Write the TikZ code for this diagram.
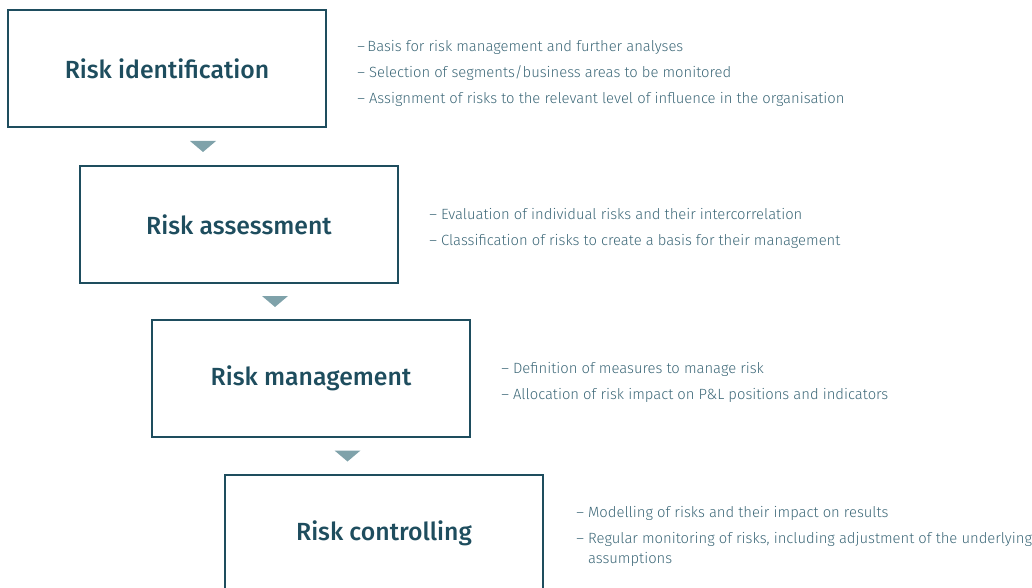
\documentclass[tikz,border=0pt]{standalone}
\usepackage{fontspec}
\setmainfont{Fira Sans}[UprightFont={* Light}, BoldFont={* Medium}]
\usetikzlibrary{positioning}
\definecolor{boxcol}{HTML}{1E4D5E}
\definecolor{notecol}{HTML}{3D6878}
\definecolor{tricol}{HTML}{7FA2AA}

\begin{document}
\begin{tikzpicture}[x=0.75pt,y=-0.75pt,
    stage/.style={draw=boxcol, line width=1.5pt, minimum width=238.5pt, minimum height=87.75pt,
      text=boxcol, font=\fontsize{18.6}{22}\bfseries},
    notes/.style={align=left, text=notecol, font=\fontsize{11.1}{15}\selectfont, inner sep=0pt},
    tri/.style={fill=tricol}]
      \clip (0,0) rectangle (1032,588);
      \node[stage] (id) at (167,68.5) {Risk identification};
      \node[stage] (as) at (239,224.5) {Risk assessment};
      \node[stage] (man) at (311,378.5) {Risk management};
      \node[stage] (con) at (384,533.5) {Risk controlling};
      % notes next to each stage
      \node[notes, right=22.5pt of id, yshift=-3.5pt] (idnotes) {--\,Basis for risk management and further analyses\\[4.5pt]
        -- Selection of segments/business areas to be monitored\\[4.5pt]
        -- Assignment of risks to the relevant level of influence in the organisation};
      \node[notes, right=22.5pt of as, yshift=-3pt] (asnotes) {-- Evaluation of individual risks and their intercorrelation\\[4.5pt]
        -- Classification of risks to create a basis for their management};
      \node[notes, right=22.5pt of man, yshift=-3pt] (mannotes) {-- Definition of measures to manage risk\\[4.5pt]
        -- Allocation of risk impact on P\&L positions and indicators};
      \node[notes, right=24pt of con, yshift=-2pt] (connotes) {-- Modelling of risks and their impact on results\\[4.5pt]
        -- Regular monitoring of risks, including adjustment of the underlying\\
        \phantom{-- }assumptions};
      % triangles between the stages
      \foreach \a/\b in {id/as,man/con,as/man}
        {
        \path (\a.south) -- (\b.north) coordinate[midway] (t\a);
        \fill[tri] (t\a) ++(-13,-5.5) -- ++(26,0) -- ++(-13,11) -- cycle;
        }
\end{tikzpicture}
\end{document}
